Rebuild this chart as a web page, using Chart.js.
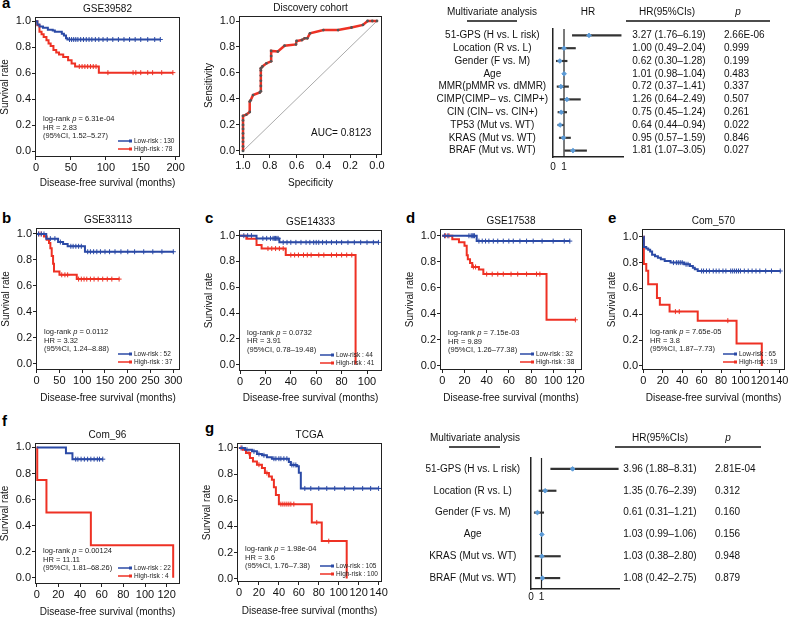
<!DOCTYPE html>
<html>
<head>
<meta charset="utf-8">
<script src="https://cdn.jsdelivr.net/npm/chart.js@4"></script>
<style>
  body { margin: 0; background: #fff; width: 788px; height: 617px; overflow: hidden; position: relative;
         font-family: "Liberation Sans", Arial, sans-serif; }
  canvas { position: absolute; }
  .lt { position: absolute; font-weight: bold; font-size: 15px; line-height: 15px; color: #000; }
</style>
</head>
<body>
<div class="lt" style="left:2px;top:-5px">a</div>
<div class="lt" style="left:2px;top:210px">b</div>
<div class="lt" style="left:205px;top:210px">c</div>
<div class="lt" style="left:406px;top:210px">d</div>
<div class="lt" style="left:608px;top:210px">e</div>
<div class="lt" style="left:2px;top:413px">f</div>
<div class="lt" style="left:205px;top:420px">g</div>
<script>
// Curvas de Kaplan-Meier, ROC e forest plots

const FONT = '"Liberation Sans", Arial, sans-serif';
const BLUE = '#2b4aa6';
const RED  = '#ee3124';
const PT   = '#5b9ad6';

const yTicks = [0, 0.2, 0.4, 0.6, 0.8, 1.0];

// GSE39582
const aLowT  = [0, 2, 5, 10, 17, 24, 27, 37, 40, 43, 45, 178];
const aLowS  = [1, 0.975, 0.96, 0.95, 0.935, 0.93, 0.92, 0.905, 0.89, 0.87, 0.86, 0.86];
const aLowC  = [48, 51, 54, 57, 60, 64, 68, 72, 76, 80, 85, 90, 96, 102, 110, 118, 126, 134, 142, 150, 160, 170, 178];
const aHighT = [0, 2, 5, 8, 11, 15, 18, 21, 25, 29, 33, 39, 46, 51, 56, 90, 196];
const aHighS = [1, 0.97, 0.92, 0.9, 0.88, 0.855, 0.83, 0.81, 0.78, 0.76, 0.745, 0.725, 0.7, 0.675, 0.652, 0.605, 0.605];
const aHighC = [62, 66, 70, 74, 78, 82, 86, 103, 139, 143, 150, 160, 167, 180, 196];
const aStats = ['6.31e-04', '2.83', '1.52–5.27'];
const aN     = [130, 78];

// GSE33113
const bLowT  = [0, 21, 47, 58, 68, 106, 300];
const bLowS  = [1, 0.964, 0.938, 0.923, 0.905, 0.863, 0.863];
const bLowC  = [4, 10, 16, 30, 40, 52, 75, 80, 86, 92, 98, 112, 118, 125, 132, 140, 150, 160, 172, 185, 200, 215, 235, 255, 275, 300];
const bHighT = [0, 16, 22, 27, 30, 33, 36, 38, 50, 88, 181];
const bHighS = [1, 0.98, 0.956, 0.93, 0.89, 0.83, 0.77, 0.711, 0.685, 0.652, 0.652];
const bHighC = [5, 10, 55, 62, 68, 92, 98, 104, 110, 118, 126, 135, 145, 155, 165, 181];
const bStats = ['0.0112', '3.32', '1.24–8.88'];
const bN     = [52, 37];

// GSE14333
const cLowT  = [0, 13, 31, 109];
const cLowS  = [1, 0.979, 0.948, 0.948];
const cLowC  = [3, 6, 9, 18, 21, 24, 26, 27, 28, 29, 30, 34, 37, 40, 44, 48, 52, 55, 58, 60, 62, 65, 68, 72, 76, 80, 85, 90, 95, 100, 105, 109];
const cHighT = [0, 5, 13, 17, 36, 91];
const cHighS = [1, 0.976, 0.927, 0.9, 0.85, 0];
const cHighC = [22, 25, 28, 31, 34, 40, 43, 46, 50, 53, 56, 62, 66, 72, 76, 80, 84, 88];
const cStats = ['0.0732', '3.91', '0.78–19.48'];
const cN     = [44, 41];

// GSE17538
const dLowT  = [0, 31, 115];
const dLowS  = [1, 0.959, 0.959];
const dLowC  = [2, 5, 24, 26, 27, 28, 29, 33, 36, 39, 42, 46, 50, 55, 60, 64, 70, 76, 82, 90, 100, 110, 115];
const dHighT = [0, 9, 15, 20, 22, 23, 25, 27, 33, 37, 94, 120];
const dHighS = [1, 0.974, 0.95, 0.924, 0.85, 0.82, 0.79, 0.76, 0.74, 0.705, 0.353, 0.353];
const dHighC = [3, 6, 28, 30, 40, 45, 50, 55, 62, 68, 76, 85, 88, 120];
const dStats = ['7.15e-03', '9.89', '1.26–77.38'];
const dN     = [32, 38];

// Com_570
const eLowT  = [0, 0.5, 3, 5, 7, 9, 12, 15, 18, 22, 28, 42, 48, 51, 53, 56, 141];
const eLowS  = [1, 0.92, 0.91, 0.9, 0.885, 0.86, 0.85, 0.838, 0.825, 0.812, 0.8, 0.787, 0.773, 0.76, 0.748, 0.735, 0.735];
const eLowC  = [31, 34, 36, 38, 40, 44, 46, 60, 62, 65, 68, 72, 75, 78, 82, 85, 90, 92, 94, 96, 98, 100, 104, 108, 112, 116, 120, 126, 132, 141];
const eHighT = [0, 0.5, 3, 5, 14, 17, 27, 56, 96, 122];
const eHighS = [1, 0.79, 0.737, 0.632, 0.526, 0.474, 0.421, 0.351, 0.175, 0];
const eHighC = [33, 37, 87];
const eStats = ['7.65e-05', '3.8', '1.87–7.73'];
const eN     = [65, 19];

// Com_96
const fLowT  = [0, 27, 33, 61];
const fLowS  = [1, 0.955, 0.91, 0.91];
const fLowC  = [36, 38, 41, 44, 47, 50, 53, 56, 58, 61];
const fHighT = [0, 0.5, 9, 50, 126];
const fHighS = [1, 0.75, 0.5, 0.25, 0];
const fHighC = [];
const fStats = ['0.00124', '11.11', '1.81–68.26'];
const fN     = [22, 4];

// TCGA
const gLowT  = [0, 6, 13, 18, 23, 28, 33, 50, 52, 58, 60, 62, 140];
const gLowS  = [1, 0.987, 0.974, 0.954, 0.944, 0.928, 0.918, 0.892, 0.87, 0.86, 0.81, 0.69, 0.69];
const gLowC  = [3, 8, 15, 20, 25, 35, 37, 40, 42, 45, 48, 53, 55, 57, 66, 72, 80, 88, 96, 106, 115, 124, 132, 140];
const gHighT = [0, 4, 7, 11, 14, 18, 23, 26, 30, 33, 35, 37, 40, 73, 83, 108];
const gHighS = [1, 0.987, 0.962, 0.923, 0.897, 0.872, 0.846, 0.808, 0.782, 0.756, 0.7, 0.64, 0.57, 0.43, 0.287, 0];
const gHighC = [2, 10, 20, 28, 42, 44, 46, 48, 50, 52, 55, 78, 90];
const gStats = ['1.98e-04', '3.6', '1.76–7.38'];
const gN     = [105, 100];

// ROC, coorte de descoberta
const rocSpec = [1, 1, 1, 1, 1, 1, 1, 1, 1, 0.975, 0.95, 0.95, 0.943, 0.925, 0.875, 0.867, 0.867, 0.867, 0.867, 0.867, 0.867,
                 0.855, 0.825, 0.79, 0.79, 0.79, 0.74, 0.69, 0.605, 0.6, 0.56, 0.54, 0.52, 0.5, 0.4, 0.29, 0.19, 0.105, 0.07, 0.035, 0];
const rocSens = [0, 0.035, 0.07, 0.1, 0.135, 0.17, 0.2, 0.235, 0.27, 0.28, 0.3, 0.38, 0.39, 0.43, 0.45, 0.46, 0.5, 0.54, 0.58, 0.62, 0.636,
                 0.65, 0.674, 0.69, 0.73, 0.77, 0.765, 0.81, 0.82, 0.846, 0.854, 0.867, 0.867, 0.905, 0.93, 0.93, 0.95, 0.97, 1, 1, 1];
const rocTicks = [1.0, 0.8, 0.6, 0.4, 0.2, 0.0];
const rocAUC = '0.8123';

// Análise multivariada (topo)
const faRows = ['51-GPS (H vs. L risk)', 'Location (R vs. L)', 'Gender (F vs. M)', 'Age', 'MMR(pMMR vs. dMMR)',
                'CIMP(CIMP– vs. CIMP+)', 'CIN (CIN– vs. CIN+)', 'TP53 (Mut vs. WT)', 'KRAS (Mut vs. WT)', 'BRAF (Mut vs. WT)'];
const faHR = [3.27, 1.00, 0.62, 1.01, 0.72, 1.26, 0.75, 0.64, 0.95, 1.81];
const faLo = [1.76, 0.49, 0.30, 0.98, 0.37, 0.64, 0.45, 0.44, 0.57, 1.07];
const faHi = [6.19, 2.04, 1.28, 1.04, 1.41, 2.49, 1.24, 0.94, 1.59, 3.05];
const faP  = ['2.66E-06', '0.999', '0.199', '0.483', '0.337', '0.507', '0.261', '0.022', '0.846', '0.027'];

// Análise multivariada (TCGA)
const fbRows = ['51-GPS (H vs. L risk)', 'Location (R vs. L)', 'Gender (F vs. M)', 'Age', 'KRAS (Mut vs. WT)', 'BRAF (Mut vs. WT)'];
const fbHR = [3.96, 1.35, 0.61, 1.03, 1.03, 1.08];
const fbLo = [1.88, 0.76, 0.31, 0.99, 0.38, 0.42];
const fbHi = [8.31, 2.39, 1.21, 1.06, 2.80, 2.75];
const fbP  = ['2.81E-04', '0.312', '0.160', '0.156', '0.948', '0.879'];

Chart.defaults.font.family = FONT;
Chart.defaults.color = '#111';

const PAD_R = 12;

function makeCanvas(left, top, w, h) {
  const cv = document.createElement('canvas');
  cv.width = w; cv.height = h;
  cv.style.left = left + 'px'; cv.style.top = top + 'px';
  cv.style.width = w + 'px'; cv.style.height = h + 'px';
  document.body.appendChild(cv);
  return cv;
}

function stepAt(ts, ss, t) {
  let s = ss[0];
  for (let i = 0; i < ts.length; i++) if (ts[i] <= t) s = ss[i];
  return s;
}

function axisX(min, max, ticks, title, h, fmt, reverse) {
  return {
    type: 'linear', min, max, reverse: !!reverse,
    afterBuildTicks: s => { s.ticks = ticks.map(v => ({ value: v })); },
    afterFit: s => { s.height = h; s.paddingLeft = 0; s.paddingRight = 0; },
    grid: { display: true, drawOnChartArea: false, drawTicks: true, tickLength: 3, color: '#222' },
    border: { display: false },
    ticks: { font: { size: 11 }, padding: 1.5, autoSkip: false, maxRotation: 0, callback: fmt },
    title: { display: true, text: title, font: { size: 10 }, padding: 0 },
  };
}

function axisY(min, max, title) {
  return {
    type: 'linear', min, max,
    afterBuildTicks: s => { s.ticks = yTicks.map(v => ({ value: v })); },
    afterFit: s => { s.width = 36; s.paddingTop = 0; s.paddingBottom = 0; },
    grid: { display: true, drawOnChartArea: false, drawTicks: true, tickLength: 3, color: '#222' },
    border: { display: false },
    ticks: { font: { size: 11 }, padding: 1, autoSkip: false, callback: v => v.toFixed(1) },
    title: { display: true, text: title, font: { size: 10 }, padding: 0 },
  };
}

const kmDecor = {
  id: 'kmDecor',
  beforeDatasetsDraw(chart, args, o) {
    if (!o.diag) return;
    const { ctx, scales: { x, y } } = chart;
    ctx.save();
    ctx.strokeStyle = '#aaa'; ctx.lineWidth = 1;
    ctx.beginPath();
    ctx.moveTo(x.getPixelForValue(1), y.getPixelForValue(0));
    ctx.lineTo(x.getPixelForValue(0), y.getPixelForValue(1));
    ctx.stroke();
    ctx.restore();
  },
  afterDraw(chart, args, o) {
    const { ctx, chartArea: a } = chart;
    ctx.save();
    ctx.strokeStyle = '#222'; ctx.lineWidth = 1;
    ctx.strokeRect(a.left + 0.5, a.top + 0.5, a.right - a.left - 1, a.bottom - a.top - 1);
    ctx.fillStyle = '#111'; ctx.textBaseline = 'middle';
    ctx.font = '10px ' + FONT; ctx.textAlign = 'center';
    ctx.fillText(o.title, (a.left + a.right) / 2, a.top - 8);

    if (o.auc) {
      ctx.textAlign = 'left';
      ctx.fillText('AUC= ' + o.auc, a.left + 72, a.bottom - 22);
    }

    if (o.stats) {
      ctx.textAlign = 'left'; ctx.fillStyle = '#222';
      const x0 = a.left + 8, y0 = a.bottom + o.statsDy;
      let x = x0;
      [['log-rank ', ''], ['p', 'italic '], [' = ' + o.stats[0], '']].forEach(([t, st]) => {
        ctx.font = st + '7.5px ' + FONT;
        ctx.fillText(t, x, y0);
        x += ctx.measureText(t).width;
      });
      ctx.font = '7.5px ' + FONT;
      ctx.fillText('HR = ' + o.stats[1], x0, y0 + 8.7);
      ctx.fillText('(95%CI, ' + o.stats[2] + ')', x0, y0 + 17.4);

      [[o.n[0], BLUE, 'Low-risk : '], [o.n[1], RED, 'High-risk : ']].forEach(([n, col, lab], i) => {
        const ly = a.bottom - 16 + i * 8;
        ctx.strokeStyle = col; ctx.lineWidth = 1.5;
        ctx.beginPath(); ctx.moveTo(a.right - 62, ly); ctx.lineTo(a.right - 49, ly); ctx.stroke();
        ctx.fillStyle = col; ctx.fillRect(a.right - 51, ly - 1.5, 3, 3);
        ctx.fillStyle = '#222'; ctx.font = '6.5px ' + FONT;
        ctx.fillText(lab + n, a.right - 46, ly);
      });
    }
    ctx.restore();
  }
};

function baseOptions(decor, scales) {
  return {
    responsive: false, animation: false, events: [],
    layout: { padding: { top: 20, left: 0, right: PAD_R, bottom: 0 }, autoPadding: false },
    plugins: { legend: { display: false }, tooltip: { enabled: false }, kmDecor: decor },
    scales,
  };
}

function drawKM(p) {
  const f = p.frame;
  const cv = makeCanvas(f.l - 36, f.t - 20, f.r - f.l + 36 + PAD_R, f.b - f.t + 20 + p.xH);
  const curve = (t, s, col) => ({
    data: t.map((v, i) => ({ x: v, y: s[i] })),
    showLine: true, stepped: true, borderColor: col, borderWidth: 2, pointRadius: 0,
  });
  const marks = (t, s, c, col) => ({
    data: c.map(v => ({ x: v, y: stepAt(t, s, v) })),
    pointStyle: 'cross', pointRadius: 2.5, borderColor: col, borderWidth: 1, backgroundColor: col,
  });
  new Chart(cv, {
    type: 'scatter',
    data: { datasets: [
      curve(p.lowT, p.lowS, BLUE),
      curve(p.highT, p.highS, RED),
      marks(p.lowT, p.lowS, p.lowC, BLUE),
      marks(p.highT, p.highS, p.highC, RED),
    ] },
    options: baseOptions(
      { title: p.title, stats: p.stats, n: p.n, statsDy: p.statsDy },
      {
        x: axisX(p.xmin, p.xmax, p.xTicks, 'Disease-free survival (months)', p.xH, v => String(v)),
        y: axisY(p.ymin, p.ymax, 'Survival rate'),
      }),
    plugins: [kmDecor],
  });
}

function drawROC() {
  const f = { l: 239, t: 16, r: 382, b: 155 };
  const cv = makeCanvas(f.l - 36, f.t - 20, f.r - f.l + 36 + PAD_R, f.b - f.t + 20 + 34);
  new Chart(cv, {
    type: 'scatter',
    data: { datasets: [{
      data: rocSpec.map((v, i) => ({ x: v, y: rocSens[i] })),
      showLine: true, borderColor: RED, borderWidth: 2.5,
      pointRadius: 1.4, pointBackgroundColor: '#555', pointBorderWidth: 0,
    }] },
    options: baseOptions(
      { title: 'Discovery cohort', auc: rocAUC, diag: true },
      {
        x: axisX(-0.0375, 1.03, rocTicks, 'Specificity', 34, v => v.toFixed(1), true),
        y: axisY(-0.031, 1.0385, 'Sensitivity'),
      }),
    plugins: [kmDecor],
  });
}

const forestDecor = {
  id: 'forestDecor',
  beforeDatasetsDraw(chart) {
    const { ctx, chartArea: a, scales: { x } } = chart;
    const px = x.getPixelForValue(1);
    ctx.save();
    ctx.strokeStyle = '#222'; ctx.lineWidth = 1.2;
    ctx.beginPath(); ctx.moveTo(px, a.top); ctx.lineTo(px, a.bottom); ctx.stroke();
    ctx.restore();
  },
  afterDraw(chart, args, o) {
    const { ctx, scales: { y } } = chart;
    ctx.save();
    ctx.fillStyle = '#111'; ctx.textBaseline = 'middle'; ctx.font = '10px ' + FONT;
    o.hr.forEach((v, i) => {
      const py = y.getPixelForValue(i);
      ctx.textAlign = 'center';
      ctx.fillText(`${v.toFixed(2)} (${o.lo[i].toFixed(2)}–${o.hi[i].toFixed(2)})`, o.hrX - o.cl, py);
      ctx.textAlign = 'left';
      ctx.fillText(o.p[i], o.pX - o.cl, py);
    });
    ctx.textAlign = 'center';
    o.heads.forEach(h => {
      ctx.font = (h.it ? 'italic ' : '') + '10px ' + FONT;
      ctx.fillText(h.t, h.x - o.cl, o.headY - o.ct);
    });
    ctx.strokeStyle = '#111'; ctx.lineWidth = 1.6;
    o.rules.forEach(([x1, x2]) => {
      ctx.beginPath(); ctx.moveTo(x1 - o.cl, o.ruleY - o.ct); ctx.lineTo(x2 - o.cl, o.ruleY - o.ct); ctx.stroke();
    });
    ctx.restore();
  }
};

function drawForest(f) {
  const YW = 130;
  const cl = f.left - YW;
  const cv = makeCanvas(cl, f.ct, 788 - cl, f.bottom + 18 - f.ct);
  new Chart(cv, {
    type: 'bar',
    data: { labels: f.rows, datasets: [
      { type: 'line', indexAxis: 'y', data: f.hr, showLine: false, pointStyle: 'rectRot', pointRadius: 2.3,
        pointBackgroundColor: PT, pointBorderColor: PT, order: 0 },
      { data: f.lo.map((v, i) => [v, f.hi[i]]), backgroundColor: '#333', barThickness: 1.5, borderWidth: 0, order: 1 },
    ] },
    options: {
      indexAxis: 'y', responsive: false, animation: false, events: [],
      layout: { padding: { top: f.top - f.ct, right: 788 - f.right, left: 0, bottom: 0 }, autoPadding: false },
      plugins: {
        legend: { display: false }, tooltip: { enabled: false },
        forestDecor: { hr: f.hr, lo: f.lo, hi: f.hi, p: f.p, hrX: f.hrX, pX: f.pX, cl, ct: f.ct,
                       heads: f.heads, headY: f.headY, rules: f.rules, ruleY: f.ruleY },
      },
      scales: {
        x: {
          type: 'linear', min: 0, max: f.max,
          afterBuildTicks: s => { s.ticks = [0, 1].map(v => ({ value: v })); },
          afterFit: s => { s.height = 18; s.paddingLeft = 0; s.paddingRight = 0; },
          grid: { display: false, drawTicks: false },
          border: { display: true, color: '#222', width: 1.5 },
          ticks: { font: { size: 10 }, padding: f.xPad, autoSkip: false, maxRotation: 0 },
        },
        y: {
          afterFit: s => { s.width = YW; s.paddingTop = 0; s.paddingBottom = 0; },
          grid: { display: false, drawTicks: false },
          border: { display: true, color: '#222', width: 1.5 },
          ticks: { font: { size: 10 }, padding: f.yPad, crossAlign: 'center', autoSkip: false },
        },
      },
    },
    plugins: [forestDecor],
  });
}

document.addEventListener('DOMContentLoaded', () => {
  drawKM({ title: 'GSE39582', frame: { l: 35, t: 17, r: 180, b: 157 }, xH: 32,
           xmin: -1.4, xmax: 206.2, xTicks: [0, 50, 100, 150, 200], ymin: -0.044, ymax: 1.033,
           lowT: aLowT, lowS: aLowS, lowC: aLowC, highT: aHighT, highS: aHighS, highC: aHighC,
           stats: aStats, n: aN, statsDy: -38 });
  drawROC();
  drawKM({ title: 'GSE33113', frame: { l: 36, t: 228, r: 180, b: 370 }, xH: 34,
           xmin: -1.5, xmax: 314.7, xTicks: [0, 50, 100, 150, 200, 250, 300], ymin: -0.049, ymax: 1.046,
           lowT: bLowT, lowS: bLowS, lowC: bLowC, highT: bHighT, highS: bHighS, highC: bHighC,
           stats: bStats, n: bN, statsDy: -38 });
  drawKM({ title: 'GSE14333', frame: { l: 239, t: 230, r: 382, b: 371 }, xH: 33,
           xmin: -0.8, xmax: 111.8, xTicks: [0, 20, 40, 60, 80, 100], ymin: -0.05, ymax: 1.044,
           lowT: cLowT, lowS: cLowS, lowC: cLowC, highT: cHighT, highS: cHighS, highC: cHighC,
           stats: cStats, n: cN, statsDy: -38.5 });
  drawKM({ title: 'GSE17538', frame: { l: 440, t: 229, r: 582, b: 370 }, xH: 34,
           xmin: -2.1, xmax: 126, xTicks: [0, 20, 40, 60, 80, 100, 120], ymin: -0.033, ymax: 1.052,
           lowT: dLowT, lowS: dLowS, lowC: dLowC, highT: dHighT, highS: dHighS, highC: dHighC,
           stats: dStats, n: dN, statsDy: -37 });
  drawKM({ title: 'Com_570', frame: { l: 642, t: 229, r: 785, b: 370 }, xH: 34,
           xmin: -1.4, xmax: 145.9, xTicks: [0, 20, 40, 60, 80, 100, 120, 140], ymin: -0.031, ymax: 1.06,
           lowT: eLowT, lowS: eLowS, lowC: eLowC, highT: eHighT, highS: eHighS, highC: eHighC,
           stats: eStats, n: eN, statsDy: -38 });
  drawKM({ title: 'Com_96', frame: { l: 35, t: 443, r: 180, b: 584 }, xH: 34,
           xmin: -1.57, xmax: 132.3, xTicks: [0, 20, 40, 60, 80, 100, 120], ymin: -0.048, ymax: 1.034,
           lowT: fLowT, lowS: fLowS, lowC: fLowC, highT: fHighT, highS: fHighS, highC: fHighC,
           stats: fStats, n: fN, statsDy: -33 });
  drawKM({ title: 'TCGA', frame: { l: 237, t: 443, r: 382, b: 582 }, xH: 35,
           xmin: -2, xmax: 143.4, xTicks: [0, 20, 40, 60, 80, 100, 120, 140], ymin: -0.026, ymax: 1.038,
           lowT: gLowT, lowS: gLowS, lowC: gLowC, highT: gHighT, highS: gHighS, highC: gHighC,
           stats: gStats, n: gN, statsDy: -33 });

  drawForest({ rows: faRows, hr: faHR, lo: faLo, hi: faHi, p: faP,
               left: 553, right: 623, ct: 0, top: 29, bottom: 157, max: 6.36, xPad: 4, yPad: 5,
               hrX: 669, pX: 724, headY: 12, ruleY: 21,
               heads: [{ t: 'Multivariate analysis', x: 492 }, { t: 'HR', x: 588 }, { t: 'HR(95%CIs)', x: 667 }, { t: 'p', x: 738, it: true }],
               rules: [[467, 517], [626, 770]] });
  drawForest({ rows: fbRows, hr: fbHR, lo: fbLo, hi: fbHi, p: fbP,
               left: 531, right: 619, ct: 420, top: 458, bottom: 589, max: 8.38, xPad: 2, yPad: 11,
               hrX: 660, pX: 715, headY: 438, ruleY: 447,
               heads: [{ t: 'Multivariate analysis', x: 475 }, { t: 'HR(95%CIs)', x: 660 }, { t: 'p', x: 728, it: true }],
               rules: [[449, 500], [615, 761]] });
});
</script>
</body>
</html>
